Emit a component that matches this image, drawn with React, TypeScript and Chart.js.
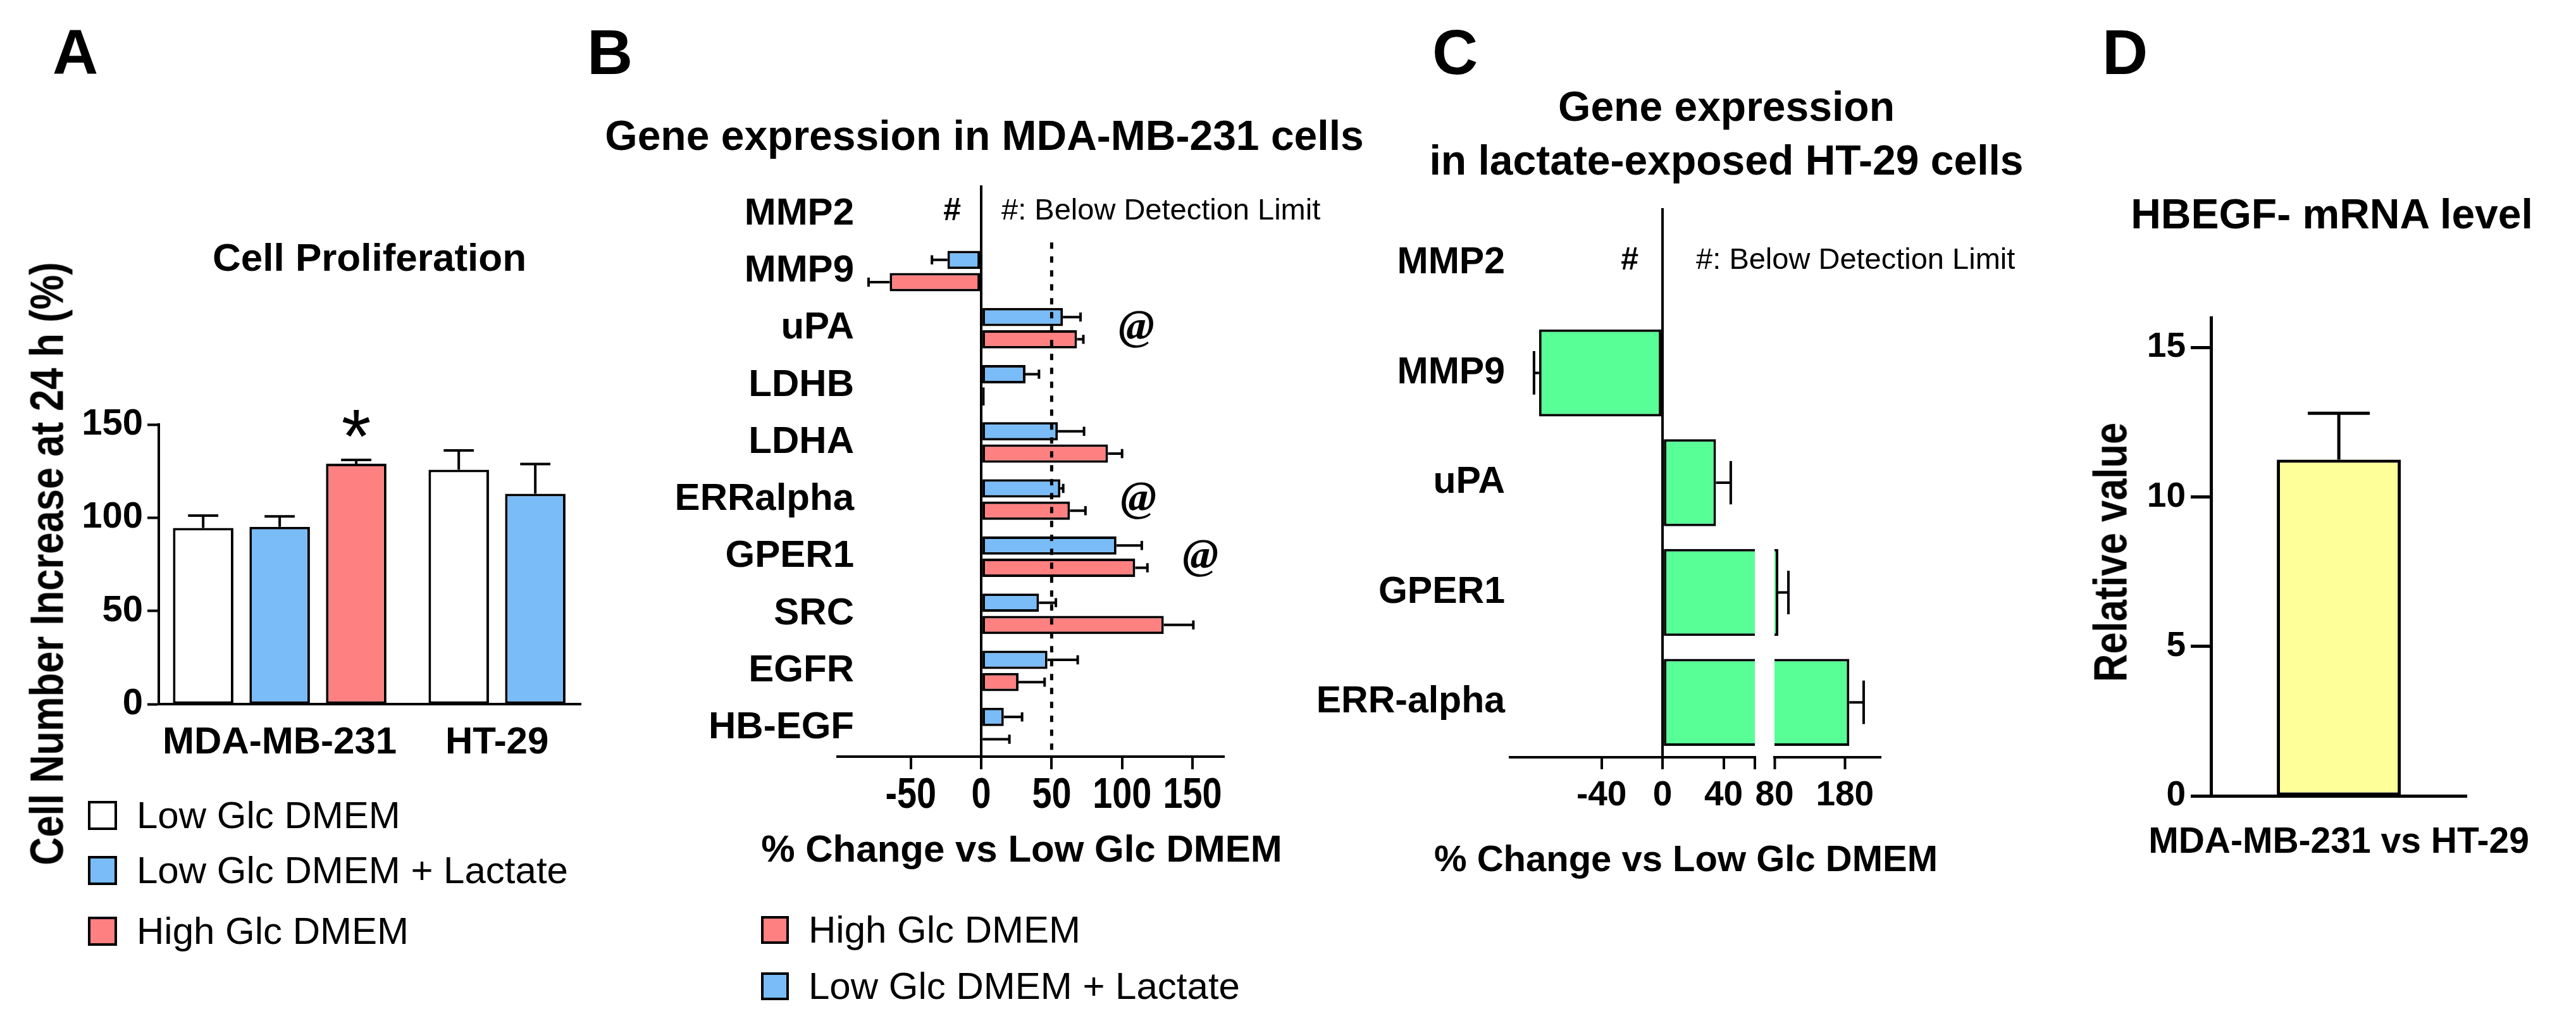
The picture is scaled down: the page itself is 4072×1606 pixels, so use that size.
import React, { useEffect, useRef } from 'react';
import { Chart, registerables } from 'chart.js';

Chart.register(...registerables);

const SANS = "'Liberation Sans', Arial, Helvetica, sans-serif";
const SERIF = "'Liberation Serif', 'Times New Roman', serif";
const NARROW_SCALE = 0.82;

const WHITE = '#ffffff';
const BLUE = '#79bcf8';
const RED = '#ff8080';
const GREEN = '#58ff96';
const YELLOW = '#ffff99';
const BLACK = '#000000';

Chart.defaults.font.family = SANS;
Chart.defaults.color = BLACK;

// ---------------- Panel A data ----------------
const groupsA = ['MDA-MB-231', 'HT-29'];
const seriesA = ['Low Glc DMEM', 'Low Glc DMEM + Lactate', 'High Glc DMEM'];
const lowGlcA = [94.5, 125.7];
const lactateA = [95.1, 112.8];
const highGlcA: (number | null)[] = [129.0, null];
const lowGlcErrA = [6.6, 10.4];
const lactateErrA = [5.6, 16.0];
const highGlcErrA: (number | null)[] = [2.0, null];
const highGlcMarkA: (string | null)[] = ['*', null];
const yTicksA = [0, 50, 100, 150];

// ---------------- Panel B data ----------------
const genesB = ['MMP2', 'MMP9', 'uPA', 'LDHB', 'LDHA', 'ERRalpha', 'GPER1', 'SRC', 'EGFR', 'HB-EGF'];
const lactateB: (number | null)[] = [null, -24, 58, 31.4, 54.4, 56.2, 96, 41, 47, 16];
const lactateErrB: (number | null)[] = [null, 11, 12.5, 9.6, 18.6, 2, 18, 12, 21.5, 13];
const highGlcB: (number | null)[] = [null, -65, 68, 2.5, 90, 63, 109.3, 129.6, 26.5, 1];
const highGlcErrB: (number | null)[] = [null, 15, 4.5, 0, 10, 11, 8.7, 21, 18.5, 19];
const belowLimitB = [true, false, false, false, false, false, false, false, false, false];
const atMarkB = [false, false, true, false, false, true, true, false, false, false];
const xTicksB = [-50, 0, 50, 100, 150];
const thresholdB = 50;

// ---------------- Panel C data ----------------
const genesC = ['MMP2', 'MMP9', 'uPA', 'GPER1', 'ERR-alpha'];
const lactateC: (number | null)[] = [null, -81, 35, 85.4, 186.3];
const lactateErrC: (number | null)[] = [null, 3.3, 9.7, 14.4, 20.4];
const belowLimitC = [true, false, false, false, false];
const xTicksCLeft = [-40, 0, 40];
const xTicksCRight = [80, 180];
const axisBreakC = [60.5, 80];

// ---------------- Panel D data ----------------
const labelsD = ['MDA-MB-231 vs HT-29'];
const valuesD = [11.25];
const errD = [1.55];
const yTicksD = [0, 5, 10, 15];

// ---------------- helpers ----------------
const seriesDataA = [lowGlcA, lactateA, highGlcA];
const seriesErrA = [lowGlcErrA, lactateErrA, highGlcErrA];
const seriesMarkA = [[null, null], [null, null], highGlcMarkA];
const seriesColorA = [WHITE, BLUE, RED];
const groupGapA = 1.34; // slot distance between groups

function buildSlotsA() {
  let pos = 0;
  const centers: number[] = [];
  const pts = seriesDataA.map(() => [] as { x: number; y: number }[]);
  const errs = seriesDataA.map(() => [] as (number | null)[]);
  const marks = seriesDataA.map(() => [] as (string | null)[]);
  groupsA.forEach((_, gi) => {
    const start = pos;
    seriesDataA.forEach((s, si) => {
      const v = s[gi];
      if (v != null) {
        pts[si].push({ x: pos, y: v });
        errs[si].push(seriesErrA[si][gi]);
        marks[si].push(seriesMarkA[si][gi]);
        pos += 1;
      }
    });
    centers.push((start + pos - 1) / 2);
    pos += groupGapA - 1;
  });
  return { centers, pts, errs, marks };
}

const font = (size: number, weight: string = 'bold', family: string = SANS) => ({ family, size, weight });

function makeErrorBars(lineWidth: number, capRatio = 0.5) {
  return {
    id: 'errorBars',
    afterDatasetsDraw(chart: any) {
      const { ctx, chartArea } = chart;
      const horizontal = chart.options.indexAxis === 'y';
      const vScale = horizontal ? chart.scales.x : chart.scales.y;
      ctx.save();
      ctx.beginPath();
      ctx.rect(chartArea.left, chartArea.top - 300, chartArea.right - chartArea.left, chartArea.bottom - chartArea.top + 300);
      ctx.clip();
      ctx.strokeStyle = BLACK;
      ctx.lineWidth = lineWidth;
      chart.data.datasets.forEach((ds: any, di: number) => {
        const errs = ds.errorBars;
        if (!errs) return;
        const meta = chart.getDatasetMeta(di);
        meta.data.forEach((el: any, i: number) => {
          const e = errs[i];
          const parsed = meta.controller.getParsed(i);
          const v = parsed ? parsed[vScale.axis] : null;
          if (e == null || !(e > 0) || v == null || isNaN(v)) return;
          const end = v >= 0 ? v + e : v - e;
          const p0 = vScale.getPixelForValue(v);
          const p1 = vScale.getPixelForValue(end);
          const pr = el.getProps(['x', 'y', 'width', 'height'], true);
          const half = ((horizontal ? pr.height : pr.width) * capRatio) / 2;
          ctx.beginPath();
          if (horizontal) {
            ctx.moveTo(p0, pr.y);
            ctx.lineTo(p1, pr.y);
            ctx.moveTo(p1, pr.y - half);
            ctx.lineTo(p1, pr.y + half);
          } else {
            ctx.moveTo(pr.x, p0);
            ctx.lineTo(pr.x, p1);
            ctx.moveTo(pr.x - half, p1);
            ctx.lineTo(pr.x + half, p1);
          }
          ctx.stroke();
        });
      });
      ctx.restore();
    },
  };
}

const starPluginA = {
  id: 'starA',
  afterDatasetsDraw(chart: any) {
    const { ctx } = chart;
    ctx.save();
    ctx.fillStyle = BLACK;
    ctx.font = `normal 120px ${SANS}`;
    ctx.textAlign = 'center';
    ctx.textBaseline = 'alphabetic';
    chart.data.datasets.forEach((ds: any, di: number) => {
      if (!ds.marks) return;
      const meta = chart.getDatasetMeta(di);
      meta.data.forEach((el: any, i: number) => {
        const m = ds.marks[i];
        if (!m) return;
        const p = meta.controller.getParsed(i);
        const top = p.y + (ds.errorBars[i] || 0);
        const y = chart.scales.y.getPixelForValue(top);
        ctx.fillText(m, el.x, y + 4);
      });
    });
    ctx.restore();
  },
};

function makeGeneMarks(hashFlags: boolean[], atFlags: boolean[] | null, hashDx: number, noteDx: number) {
  return {
    id: 'geneMarks',
    afterDatasetsDraw(chart: any) {
      const { ctx } = chart;
      const xs = chart.scales.x;
      const ys = chart.scales.y;
      const zero = xs.getPixelForValue(0);
      ctx.save();
      ctx.fillStyle = BLACK;
      ctx.textBaseline = 'middle';
      hashFlags.forEach((f, i) => {
        if (!f) return;
        const y = ys.getPixelForValue(i) - 4;
        ctx.font = `bold 50px ${SANS}`;
        ctx.textAlign = 'center';
        ctx.fillText('#', zero + hashDx, y);
        ctx.font = `normal 47px ${SANS}`;
        ctx.textAlign = 'left';
        ctx.fillText('#: Below Detection Limit', zero + noteDx, y);
      });
      if (atFlags) {
        atFlags.forEach((f, i) => {
          if (!f) return;
          let maxEnd = -Infinity;
          chart.data.datasets.forEach((ds: any) => {
            const v = ds.data[i];
            if (v == null) return;
            const e = (ds.errorBars && ds.errorBars[i]) || 0;
            maxEnd = Math.max(maxEnd, v + e);
          });
          const x = xs.getPixelForValue(maxEnd) + 84;
          ctx.font = `italic bold 68px ${SERIF}`;
          ctx.textAlign = 'center';
          ctx.fillText('@', x, ys.getPixelForValue(i));
        });
      }
      ctx.restore();
    },
  };
}

function makeThresholdLine(value: number, fromIndex: number) {
  return {
    id: 'threshold',
    afterDatasetsDraw(chart: any) {
      const { ctx, chartArea } = chart;
      const x = chart.scales.x.getPixelForValue(value);
      const y0 = chart.scales.y.getPixelForValue(fromIndex);
      ctx.save();
      ctx.strokeStyle = BLACK;
      ctx.lineWidth = 5;
      ctx.setLineDash([10, 12]);
      ctx.beginPath();
      ctx.moveTo(x, y0);
      ctx.lineTo(x, chartArea.bottom);
      ctx.stroke();
      ctx.restore();
    },
  };
}

// tick labels for panel B drawn from the scales' own ticks (narrow x labels, y labels overlapping axis start)
const tickTextB = {
  id: 'tickTextB',
  afterDraw(chart: any) {
    const { ctx, chartArea } = chart;
    const ys = chart.scales.y;
    const xs = chart.scales.x;
    ctx.save();
    ctx.fillStyle = BLACK;
    ctx.textBaseline = 'middle';
    ctx.font = `bold 60px ${SANS}`;
    ctx.textAlign = 'right';
    ys.ticks.forEach((t: any, i: number) => ctx.fillText(String(t.label), chartArea.left + 26, ys.getPixelForTick(i)));
    ctx.font = `bold 68px ${SANS}`;
    ctx.textAlign = 'center';
    xs.ticks.forEach((t: any, i: number) => {
      ctx.save();
      ctx.translate(xs.getPixelForTick(i), chartArea.bottom + 62);
      ctx.scale(NARROW_SCALE, 1);
      ctx.fillText(String(t.label), 0, 0);
      ctx.restore();
    });
    ctx.restore();
  },
};

const zeroLineGrid = (lw: number, tl: number) => ({
  display: true,
  drawOnChartArea: true,
  color: (c: any) => (c.tick && c.tick.value === 0 ? BLACK : 'rgba(0,0,0,0)'),
  lineWidth: lw,
  drawTicks: true,
  tickLength: tl,
  tickWidth: 4,
  tickColor: BLACK,
});

const base = { animation: false, responsive: false, devicePixelRatio: 1, maintainAspectRatio: false };
const noPlugins = { legend: { display: false }, tooltip: { enabled: false }, title: { display: false } };

// ---------------- chart configs ----------------
function configA(): any {
  const s = buildSlotsA();
  return {
    type: 'bar',
    data: {
      datasets: seriesA.map((name, si) => ({
        label: name,
        data: s.pts[si],
        errorBars: s.errs[si],
        marks: s.marks[si],
        backgroundColor: seriesColorA[si],
        borderColor: BLACK,
        borderWidth: 4,
        borderSkipped: false,
        grouped: false,
        barPercentage: 0.79,
        categoryPercentage: 1,
      })),
    },
    options: {
      ...base,
      layout: { padding: { left: 0, right: 12, top: 671, bottom: 393 } },
      plugins: noPlugins,
      scales: {
        x: {
          type: 'linear',
          offset: false,
          min: -0.58,
          max: 4.934,
          afterBuildTicks: (sc: any) => { sc.ticks = s.centers.map((v) => ({ value: v })); },
          ticks: { autoSkip: false, maxRotation: 0, minRotation: 0, padding: 25, font: font(60), color: BLACK, callback: (_v: any, i: number) => groupsA[i] },
          grid: { display: false, drawTicks: false, offset: false },
          border: { display: true, color: BLACK, width: 4 },
          afterFit: (sc: any) => { sc.height = 100; },
        },
        y: {
          min: 0,
          max: 150,
          afterBuildTicks: (sc: any) => { sc.ticks = yTicksA.map((v) => ({ value: v })); },
          ticks: { padding: 7, font: font(58), color: BLACK },
          grid: { display: true, drawOnChartArea: false, drawTicks: true, tickLength: 18, tickWidth: 4, tickColor: BLACK },
          border: { display: true, color: BLACK, width: 4 },
          afterFit: (sc: any) => { sc.width = 251; },
        },
      },
    },
    plugins: [makeErrorBars(4), starPluginA],
  };
}

function configB(): any {
  return {
    type: 'bar',
    data: {
      labels: genesB,
      datasets: [
        { label: 'Low Glc DMEM + Lactate', data: lactateB, errorBars: lactateErrB, backgroundColor: BLUE },
        { label: 'High Glc DMEM', data: highGlcB, errorBars: highGlcErrB, backgroundColor: RED },
      ],
    },
    options: {
      ...base,
      indexAxis: 'y',
      layout: { padding: { left: 0, right: 266, top: 293, bottom: 310 } },
      plugins: noPlugins,
      datasets: { bar: { barPercentage: 0.82, categoryPercentage: 0.78, borderWidth: 4, borderColor: BLACK, borderSkipped: false } },
      scales: {
        y: {
          type: 'category',
          position: 'left',
          ticks: { display: false, autoSkip: false },
          grid: { display: false, drawTicks: false },
          border: { display: false },
          afterFit: (sc: any) => { sc.width = 394; },
        },
        x: {
          type: 'linear',
          min: -102,
          max: 172,
          afterBuildTicks: (sc: any) => { sc.ticks = xTicksB.map((v) => ({ value: v })); },
          ticks: { display: false, autoSkip: false },
          grid: zeroLineGrid(4, 20),
          border: { display: true, color: BLACK, width: 4 },
          afterFit: (sc: any) => { sc.height = 100; },
        },
      },
    },
    plugins: [makeErrorBars(4), makeThresholdLine(thresholdB, 0.5), makeGeneMarks(belowLimitB, atMarkB, -46, 32), tickTextB],
  };
}

function configCLeft(): any {
  return {
    type: 'bar',
    data: {
      labels: genesC,
      datasets: [{ label: 'Low Glc DMEM + Lactate', data: lactateC, errorBars: lactateErrC, backgroundColor: GREEN }],
    },
    options: {
      ...base,
      indexAxis: 'y',
      layout: { padding: { left: 0, right: 426, top: 329, bottom: 309 } },
      plugins: noPlugins,
      datasets: { bar: { barPercentage: 0.9, categoryPercentage: 0.88, borderWidth: 4, borderColor: BLACK, borderSkipped: false } },
      scales: {
        y: {
          type: 'category',
          ticks: { padding: 8, font: font(59), color: BLACK, autoSkip: false },
          grid: { display: false, drawTicks: false },
          border: { display: false },
          afterFit: (sc: any) => { sc.width = 347; },
        },
        x: {
          type: 'linear',
          min: -100,
          max: axisBreakC[0],
          afterBuildTicks: (sc: any) => { sc.ticks = [...xTicksCLeft, axisBreakC[0]].map((v) => ({ value: v })); },
          ticks: { padding: 9, font: font(55), color: BLACK, autoSkip: false, maxRotation: 0, callback: (v: number) => (xTicksCLeft.includes(v) ? String(v) : '') },
          grid: zeroLineGrid(4, 19),
          border: { display: true, color: BLACK, width: 4 },
          afterFit: (sc: any) => { sc.height = 100; },
        },
      },
    },
    plugins: [makeErrorBars(4), makeGeneMarks(belowLimitC, null, -52, 53)],
  };
}

function configCRight(): any {
  return {
    type: 'bar',
    data: {
      labels: genesC,
      datasets: [{ label: 'Low Glc DMEM + Lactate', data: lactateC, errorBars: lactateErrC, backgroundColor: GREEN }],
    },
    options: {
      ...base,
      indexAxis: 'y',
      layout: { padding: { left: 65, right: 37, top: 329, bottom: 309 } },
      plugins: noPlugins,
      datasets: { bar: { barPercentage: 0.9, categoryPercentage: 0.88, borderWidth: 4, borderColor: BLACK, borderSkipped: 'start' } },
      scales: {
        y: { type: 'category', display: false },
        x: {
          type: 'linear',
          min: axisBreakC[1],
          max: 231,
          afterBuildTicks: (sc: any) => { sc.ticks = xTicksCRight.map((v) => ({ value: v })); },
          ticks: { padding: 9, font: font(55), color: BLACK, autoSkip: false, maxRotation: 0 },
          grid: { display: true, drawOnChartArea: false, drawTicks: true, tickLength: 19, tickWidth: 4, tickColor: BLACK },
          border: { display: true, color: BLACK, width: 4 },
          afterFit: (sc: any) => { sc.height = 100; },
        },
      },
    },
    plugins: [makeErrorBars(4)],
  };
}

function configD(): any {
  return {
    type: 'bar',
    data: {
      labels: labelsD,
      datasets: [{ label: 'HBEGF mRNA', data: valuesD, errorBars: errD, backgroundColor: YELLOW, borderColor: BLACK, borderWidth: 5, borderSkipped: false, barPercentage: 0.485, categoryPercentage: 1 }],
    },
    options: {
      ...base,
      layout: { padding: { left: 0, right: 68, top: 502, bottom: 248 } },
      plugins: noPlugins,
      scales: {
        x: {
          type: 'category',
          ticks: { padding: 40, font: font(57), color: BLACK, maxRotation: 0 },
          grid: { display: false, drawTicks: false },
          border: { display: true, color: BLACK, width: 5 },
          afterFit: (sc: any) => { sc.height = 100; },
        },
        y: {
          min: 0,
          max: 16,
          afterBuildTicks: (sc: any) => { sc.ticks = yTicksD.map((v) => ({ value: v })); },
          ticks: { padding: 8, font: font(55), color: BLACK },
          grid: { display: true, drawOnChartArea: false, drawTicks: true, tickLength: 32, tickWidth: 5, tickColor: BLACK },
          border: { display: true, color: BLACK, width: 5 },
          afterFit: (sc: any) => { sc.width = 295; },
        },
      },
    },
    plugins: [makeErrorBars(5)],
  };
}

// ---------------- components ----------------
function ChartBox({ left, width, make }: { left: number; width: number; make: () => any }) {
  const ref = useRef<HTMLCanvasElement>(null);
  useEffect(() => {
    const chart = new Chart(ref.current as HTMLCanvasElement, make());
    return () => chart.destroy();
  }, []);
  return <canvas ref={ref} width={width} height={1606} style={{ position: 'absolute', left, top: 0, width, height: 1606 }} />;
}

function Txt({ x, y, size, children, weight = 'bold', align = 'left', family = SANS, spacing = 0 }: any) {
  const tx = align === 'center' ? '-50%' : align === 'right' ? '-100%' : '0';
  return (
    <div
      style={{
        position: 'absolute',
        left: x,
        top: y - 0.5 * size,
        fontSize: size,
        lineHeight: `${size}px`,
        fontWeight: weight,
        fontFamily: family,
        whiteSpace: 'nowrap',
        transform: `translateX(${tx})`,
        letterSpacing: spacing,
        color: BLACK,
      }}
    >
      {children}
    </div>
  );
}

function VTxt({ x, y, size, children }: any) {
  return (
    <div
      style={{
        position: 'absolute',
        left: x,
        top: y,
        fontSize: size,
        lineHeight: `${size}px`,
        fontWeight: 'bold',
        fontFamily: SANS,
        whiteSpace: 'nowrap',
        transform: `translate(-50%, -50%) rotate(-90deg) scaleX(${NARROW_SCALE})`,
        transformOrigin: 'center',
        color: BLACK,
      }}
    >
      {children}
    </div>
  );
}

function Swatch({ x, y, size, color }: any) {
  return (
    <div
      style={{
        position: 'absolute',
        left: x,
        top: y - size / 2,
        width: size,
        height: size,
        boxSizing: 'border-box',
        border: `4px solid ${BLACK}`,
        background: color,
      }}
    />
  );
}

const legendRowsA = [1289, 1376, 1472];
const legendRowsB = [1470, 1559];
const legendB = [
  { name: 'High Glc DMEM', color: RED },
  { name: 'Low Glc DMEM + Lactate', color: BLUE },
];

export default function App() {
  return (
    <div style={{ position: 'absolute', left: 0, top: 0, width: 4072, height: 1606, background: WHITE, overflow: 'hidden' }}>
      <ChartBox left={0} width={930} make={configA} />
      <ChartBox left={930} width={1270} make={configB} />
      <ChartBox left={2040} width={1160} make={configCLeft} />
      <ChartBox left={2740} width={270} make={configCRight} />
      <ChartBox left={3200} width={872} make={configD} />

      <Txt x={83} y={82} size={100}>A</Txt>
      <Txt x={928} y={82} size={100}>B</Txt>
      <Txt x={2264} y={82} size={100}>C</Txt>
      <Txt x={3323} y={82} size={100}>D</Txt>

      <Txt x={584} y={407} size={62} align="center">Cell Proliferation</Txt>
      <Txt x={1556} y={214} size={66} align="center">Gene expression in MDA-MB-231 cells</Txt>
      <Txt x={2729} y={168} size={66} align="center">Gene expression</Txt>
      <Txt x={2729} y={253} size={66} align="center">in lactate-exposed HT-29 cells</Txt>
      <Txt x={3686} y={338} size={66} align="center">HBEGF- mRNA level</Txt>

      <VTxt x={74} y={891} size={75}>Cell Number Increase at 24 h (%)</VTxt>
      <VTxt x={3336} y={873} size={75}>Relative value</VTxt>

      <Txt x={1615} y={1342} size={60} align="center">% Change vs Low Glc DMEM</Txt>
      <Txt x={2665} y={1357} size={58} align="center">% Change vs Low Glc DMEM</Txt>

      {seriesA.map((name, i) => (
        <React.Fragment key={name}>
          <Swatch x={139} y={legendRowsA[i]} size={46} color={seriesColorA[i]} />
          <Txt x={216} y={legendRowsA[i]} size={60} weight="normal">{name}</Txt>
        </React.Fragment>
      ))}
      {legendB.map((it, i) => (
        <React.Fragment key={it.name}>
          <Swatch x={1203} y={legendRowsB[i]} size={44} color={it.color} />
          <Txt x={1278} y={legendRowsB[i]} size={60} weight="normal">{it.name}</Txt>
        </React.Fragment>
      ))}
    </div>
  );
}
